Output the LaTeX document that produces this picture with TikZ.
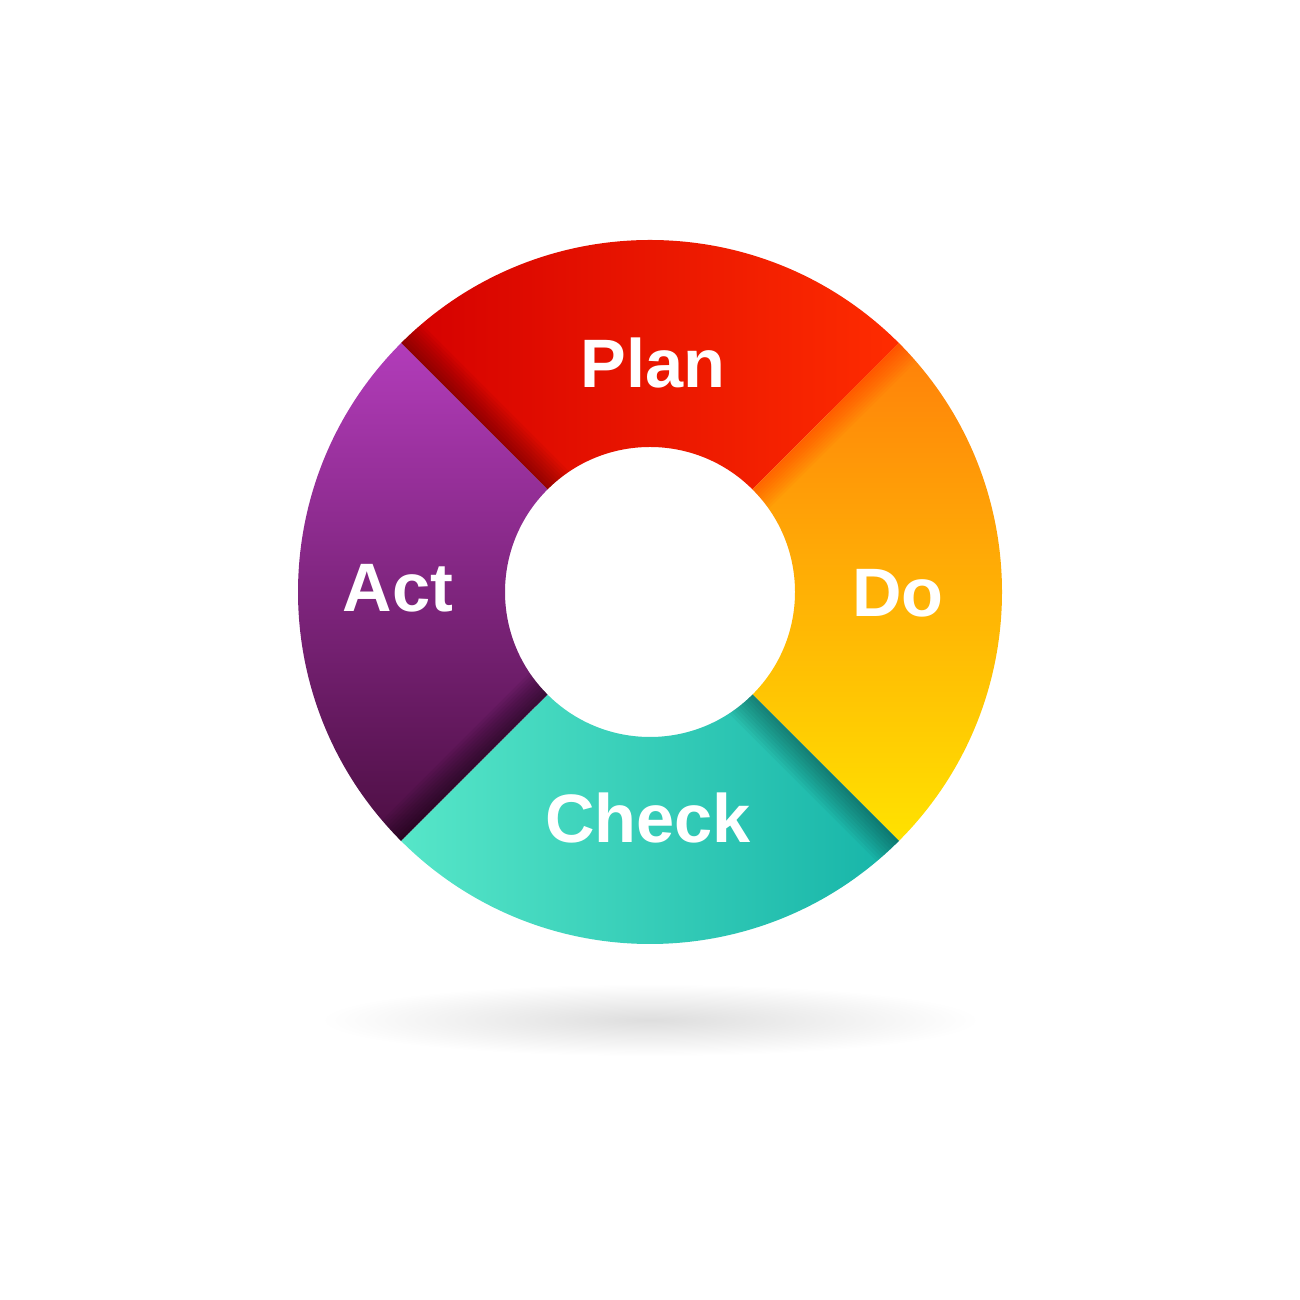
\documentclass[tikz,border=0pt]{standalone}
\usepackage{fontspec}
\setmainfont{Liberation Sans}
\definecolor{planleft}{RGB}{212,0,0}
\definecolor{planright}{RGB}{255,44,0}
\definecolor{dotop}{RGB}{255,128,10}
\definecolor{dobottom}{RGB}{255,226,0}
\definecolor{checkleft}{RGB}{86,230,200}
\definecolor{checkright}{RGB}{22,180,168}
\definecolor{acttop}{RGB}{178,60,186}
\definecolor{actmid}{RGB}{112,26,102}
\definecolor{actbottom}{RGB}{76,14,66}
\newcommand{\ringpart}[2]{(#1:1.45) arc[start angle=#1, end angle=#2, radius=1.45] -- (#2:3.52) arc[start angle=#2, end angle=#1, radius=3.52] -- cycle}
\tikzset{
  phase/.style={text=white, font=\fontsize{19.5}{24}\selectfont\bfseries, anchor=base, inner sep=0pt},
  fold/.style={opacity=#1}
}
\begin{document}
\begin{tikzpicture}
  \useasboundingbox[fill=white] (-6.5,-7.08) rectangle (6.5,5.92);
  \shade[inner color=black!13, outer color=white] (0,-4.28) ellipse[x radius=3.3, y radius=0.36];
  \shade[left color=planleft, right color=planright] \ringpart{45}{135};
  \shade[top color=dotop, bottom color=dobottom] \ringpart{-45}{45};
  \shade[left color=checkleft, right color=checkright] \ringpart{225}{315};
  \shade[top color=acttop, middle color=actmid, bottom color=actbottom] \ringpart{135}{225};
  \begin{scope}
    \clip \ringpart{-45}{45};
    \foreach \i in {1,...,10}
      \fill[red, fold=0.035, rotate=45] (1.2,0) -- (3.8,0) -- (3.8,-0.025*\i) -- (1.2,-0.025*\i) -- cycle;
  \end{scope}
  \begin{scope}
    \clip \ringpart{225}{315};
    \foreach \i in {1,...,10}
      \fill[black, fold=0.035, rotate=315] (1.2,0) -- (3.8,0) -- (3.8,-0.03*\i) -- (1.2,-0.03*\i) -- cycle;
  \end{scope}
  \begin{scope}
    \clip \ringpart{135}{225};
    \foreach \i in {1,...,10}
      \fill[black, fold=0.05, rotate=225] (1.2,0) -- (3.8,0) -- (3.8,-0.028*\i) -- (1.2,-0.028*\i) -- cycle;
  \end{scope}
  \begin{scope}
    \clip \ringpart{45}{135};
    \foreach \i in {1,...,10}
      \fill[black, fold=0.035, rotate=135] (1.2,0) -- (3.8,0) -- (3.8,-0.028*\i) -- (1.2,-0.028*\i) -- cycle;
  \end{scope}
  \node[phase] (plan) at (0.03,2.04) {Plan};
  \node[phase] (do) at (2.48,-0.25) {Do};
  \node[phase] (check) at (-0.02,-2.51) {Check};
  \node[phase] (act) at (-2.52,-0.20) {Act};
\end{tikzpicture}
\end{document}
